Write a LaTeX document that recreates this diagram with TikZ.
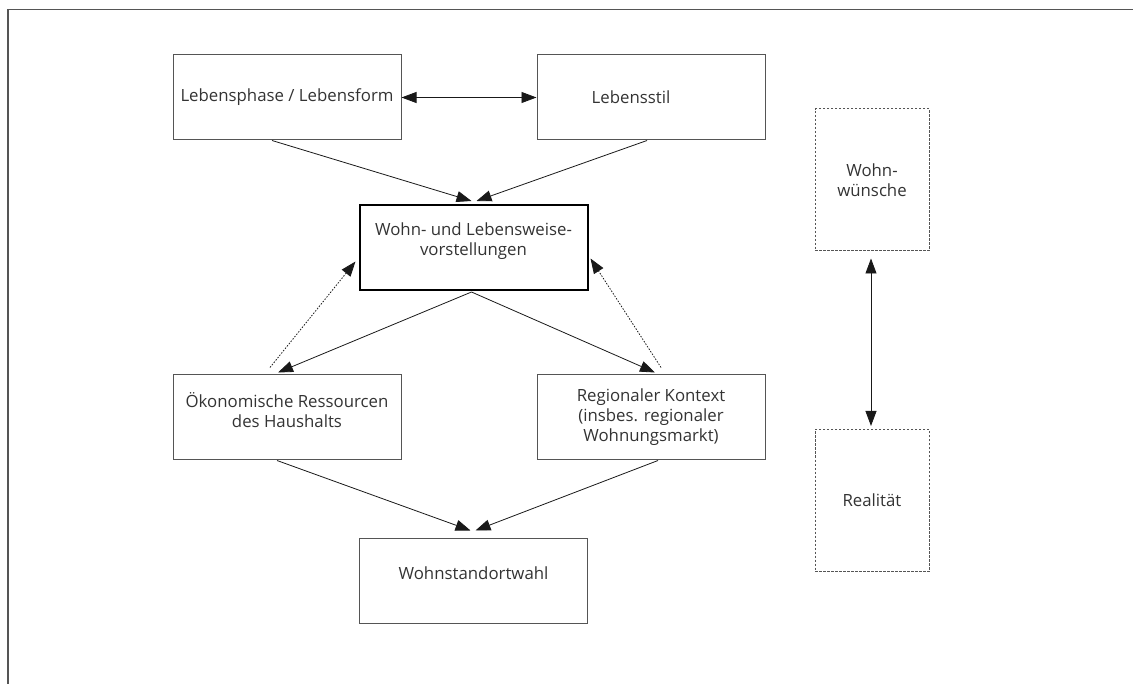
\documentclass[tikz,border=0pt]{standalone}
\usepackage{fontspec}
\setmainfont{Open Sans}
\usetikzlibrary{arrows.meta,calc}
\definecolor{txt}{HTML}{333333}
\definecolor{frame}{HTML}{555555}
\tikzset{
  box/.style={draw=frame, line width=1pt, minimum width=228pt, minimum height=85pt,
    align=center, text=txt, font=\fontsize{16.8}{20}\selectfont, inner sep=0pt},
  mainbox/.style={box, draw=black, line width=2pt},
  dbox/.style={draw=frame, line width=1pt, dash pattern=on 2.5pt off 1.5pt,
    minimum width=114pt, minimum height=142pt, align=center, text=txt,
    font=\fontsize{16.8}{20}\selectfont, inner sep=0pt},
  arr/.style={line width=0.8pt, draw=black!90, -{Triangle[length=15pt,width=11pt]}},
  darr/.style={line width=0.8pt, draw=black!90, <->, >={Triangle[length=15pt,width=11pt]}},
  dotarr/.style={line width=0.8pt, draw=black!90, dash pattern=on 1.5pt off 1.5pt,
    -{Triangle[length=15pt,width=11pt]}}
}
\begin{document}
\begin{tikzpicture}[x=1pt,y=-1pt]
\useasboundingbox (0,0) rectangle (1133,684);
% frame
\draw[frame, line width=1.3pt] (8,684) -- (8,9.5) -- (1133,9.5);
% boxes
\node[box] (lp) at (287,97.5) {Lebensphase / Lebensform};
\node[box] (ls) at (651,97.5) {\hspace*{-40pt}Lebensstil};
\node[mainbox] (wv) at (473.5,247.5) {Wohn- und Lebensweise-\\vorstellungen\\[-4pt]\mbox{}};
\node[box] (ok) at (287,417.5) {Ökonomische Ressourcen\\des Haushalts\\[-4pt]\mbox{}};
\node[box] (rk) at (651,417.5) {Regionaler Kontext\\(insbes. regionaler\\Wohnungsmarkt)};
\node[box] (ws) at (473.5,580.5) {Wohnstandortwahl\\[-6pt]\mbox{}};
\node[dbox] (ww) at (872,180) {Wohn-\\wünsche};
\node[dbox] (re) at (872,500.5) {Realität};
% connectors
\draw[darr] (lp.east) -- (ls.west);
\draw[arr] ($(lp.south)+(-15,0)$) -- ($(wv.north)+(-2,-3)$);
\draw[arr] ($(ls.south)+(-4,0)$) -- ($(wv.north)+(3,-3)$);
\draw[arr] ($(wv.south)+(-2,1)$) -- ($(ok.north)+(-9,-2)$);
\draw[arr] ($(wv.south)+(-2,1)$) -- ($(rk.north)+(4,-2)$);
\draw[dotarr] ($(ok.north)+(-17,-7)$) -- ($(wv.west)+(-3,14)$);
\draw[dotarr] ($(rk.north)+(10,-7)$) -- ($(wv.east)+(2,11)$);
\draw[arr] ($(ok.south)+(-10,0)$) -- ($(ws.north)+(-3,-7)$);
\draw[arr] ($(rk.south)+(7,0)$) -- ($(ws.north)+(2,-7)$);
\draw[darr] ($(ww.south)+(-1,7)$) -- ($(re.north)+(-1,-3)$);
\end{tikzpicture}
\end{document}
